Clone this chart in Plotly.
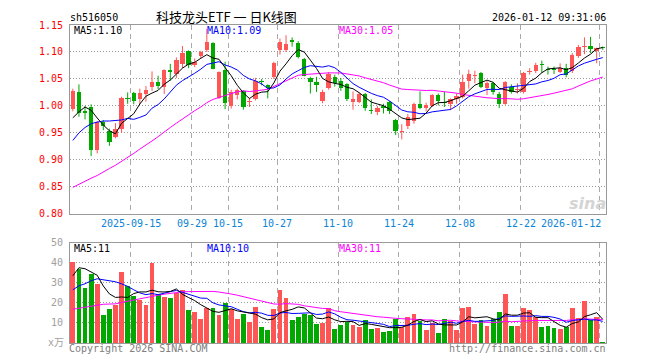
import plotly.graph_objects as go

# ---------------- data ----------------
opens = [0.995, 1.025, 0.991, 0.998, 0.918, 0.970, 0.953, 0.943, 0.958, 1.013,
         1.024, 1.012, 1.022, 1.035, 1.045, 1.035, 1.067, 1.060, 1.078, 1.101,
         1.076, 1.092, 1.104, 1.117, 1.015, 1.067, 1.000, 1.021, 1.027, 1.007,
         1.012, 1.047, 1.038, 1.053, 1.103, 1.104, 1.123, 1.116, 1.087, 1.052,
         1.045, 1.009, 1.033, 1.054, 1.046, 1.040, 1.008, 1.007, 1.022, 0.993,
         0.989, 0.999, 1.007, 0.974, 0.952, 0.962, 0.972, 1.004, 0.996, 1.000,
         1.021, 1.007, 1.004, 1.012, 1.017, 1.046, 1.055, 1.061, 1.034, 1.042,
         1.023, 1.003, 1.036, 1.029, 1.026, 1.063, 1.064, 1.077, 1.068, 1.067,
         1.063, 1.071, 1.064, 1.093, 1.110, 1.112, 1.101, 1.109]
highs = [1.032, 1.040, 1.000, 1.003, 0.972, 0.974, 0.958, 0.968, 1.017, 1.025,
         1.026, 1.032, 1.037, 1.064, 1.056, 1.068, 1.078, 1.090, 1.111, 1.103,
         1.088, 1.102, 1.143, 1.118, 1.064, 1.082, 1.030, 1.032, 1.029, 1.015,
         1.052, 1.050, 1.040, 1.082, 1.125, 1.131, 1.127, 1.120, 1.089, 1.054,
         1.054, 1.030, 1.063, 1.058, 1.052, 1.042, 1.027, 1.025, 1.024, 1.012,
         1.000, 1.004, 1.009, 0.976, 0.966, 0.985, 1.006, 1.027, 1.006, 1.022,
         1.023, 1.026, 1.014, 1.023, 1.058, 1.067, 1.065, 1.063, 1.046, 1.044,
         1.026, 1.046, 1.040, 1.042, 1.063, 1.070, 1.080, 1.084, 1.073, 1.073,
         1.079, 1.078, 1.098, 1.113, 1.127, 1.128, 1.108, 1.110]
lows = [0.990, 0.980, 0.975, 0.907, 0.912, 0.955, 0.926, 0.940, 0.950, 1.004,
        1.003, 1.003, 1.008, 1.028, 1.031, 1.022, 1.047, 1.052, 1.070, 1.070,
        1.072, 1.088, 1.100, 1.068, 1.013, 0.994, 0.995, 1.012, 0.993, 0.998,
        1.010, 1.038, 1.014, 1.050, 1.095, 1.100, 1.110, 1.088, 1.055, 1.023,
        1.026, 1.005, 1.030, 1.036, 1.028, 1.009, 0.993, 1.005, 0.991, 0.985,
        0.983, 0.986, 0.985, 0.946, 0.938, 0.957, 0.967, 0.994, 0.990, 0.998,
        1.001, 0.998, 0.992, 1.004, 1.014, 1.032, 1.042, 1.033, 1.020, 1.021,
        0.996, 1.002, 1.023, 1.023, 1.023, 1.058, 1.061, 1.061, 1.058, 1.059,
        1.061, 1.053, 1.061, 1.089, 1.096, 1.098, 1.079, 1.104]
closes = [1.027, 0.987, 0.986, 0.918, 0.970, 0.962, 0.934, 0.958, 1.015, 1.012,
          1.009, 1.024, 1.030, 1.044, 1.037, 1.066, 1.063, 1.085, 1.099, 1.075,
          1.082, 1.100, 1.119, 1.068, 1.063, 1.005, 1.025, 1.030, 0.998, 1.010,
          1.046, 1.044, 1.034, 1.079, 1.119, 1.114, 1.119, 1.091, 1.056, 1.044,
          1.038, 1.026, 1.059, 1.042, 1.033, 1.013, 1.012, 1.023, 0.996, 0.991,
          0.996, 0.996, 0.990, 0.953, 0.954, 0.980, 1.003, 0.996, 1.001, 1.021,
          1.009, 1.005, 1.012, 1.019, 1.045, 1.059, 1.057, 1.036, 1.042, 1.025,
          1.003, 1.044, 1.025, 1.031, 1.061, 1.065, 1.076, 1.075, 1.066, 1.066,
          1.070, 1.058, 1.095, 1.109, 1.112, 1.106, 1.107, 1.107]
volumes = [40.5, 36.7, 27.5, 34.5, 29.5, 13.8, 17.0, 18.8, 35.5, 28.3,
           23.5, 21.2, 18.7, 40.0, 24.2, 23.0, 22.5, 25.0, 26.5, 16.2,
           15.5, 12.2, 17.5, 17.5, 13.7, 20.0, 16.7, 12.2, 14.5, 10.5,
           18.0, 8.0, 6.7, 16.7, 26.2, 22.5, 11.7, 12.8, 14.2, 13.7,
           9.7, 10.0, 17.2, 7.1, 9.2, 10.5, 9.2, 7.8, 11.7, 7.2,
           7.5, 5.5, 6.2, 12.0, 8.0, 12.8, 14.5, 11.2, 6.7, 10.0,
           5.0, 12.2, 11.0, 6.7, 17.5, 18.0, 9.5, 11.7, 8.7, 12.2,
           15.5, 24.2, 8.7, 8.7, 17.5, 16.2, 12.8, 8.0, 8.7, 7.5,
           7.2, 8.0, 17.2, 12.5, 21.0, 11.7, 13.2, 0.5]

# moving-average values visible before a full window exists
ma5_head = [0.978, 0.989, 0.998, 0.992]
ma10_head = [0.936, 0.950, 0.960, 0.967, 0.970, 0.972, 0.972, 0.973, 0.974]
ma30_head = [0.849, 0.855, 0.861, 0.866, 0.871, 0.878, 0.884, 0.890, 0.897, 0.905,
             0.912, 0.920, 0.927, 0.935, 0.943, 0.952, 0.960, 0.968, 0.976, 0.984,
             0.991, 0.998, 1.006, 1.012, 1.016, 1.019, 1.023, 1.026, 1.028]
vma5_head = [33.5, 37.5, 37.0, 35.5]
vma10_head = [26.5, 28.5, 29.5, 31.0, 32.0, 31.5, 31.0, 30.5, 29.5]
vma30_head = [16.8, 17.3, 17.8, 18.3, 19.0, 19.3, 19.4, 19.5, 20.2, 20.9,
              21.5, 22.0, 22.6, 23.3, 23.8, 24.3, 24.8, 25.3, 25.5, 25.6,
              25.7, 25.8, 25.8, 25.7, 25.4, 25.0, 24.4, 23.8, 23.1]

tick_index = [10, 20, 26, 34, 44, 54, 64, 74, 87]
tick_labels = ["2025-09-15", "09-29", "10-15", "10-27", "11-10", "11-24",
               "12-08", "12-22", "2026-01-12"]
price_ticks = [0.80, 0.85, 0.90, 0.95, 1.00, 1.05, 1.10, 1.15]
vol_ticks = [10, 20, 30, 40, 50]

# ---------------- helpers ----------------
def moving_average(vals, n, head):
    out = list(head)
    for i in range(n - 1, len(vals)):
        out.append(sum(vals[i - n + 1:i + 1]) / n)
    return out

N = len(closes)
xs = list(range(N))
RED = "#ff5555"
GREEN = "#00a800"
MONO = "DejaVu Sans Mono, Liberation Mono, monospace"

up = [c >= o for o, c in zip(opens, closes)]

fig = go.Figure()

# wicks
for flag, col in ((True, RED), (False, GREEN)):
    wx, wy = [], []
    for i in xs:
        if up[i] == flag:
            wx += [i, i, None]
            wy += [lows[i], highs[i], None]
    fig.add_trace(go.Scatter(x=wx, y=wy, mode="lines", line=dict(color=col, width=1),
                             xaxis="x", yaxis="y", hoverinfo="skip", showlegend=False))

# bodies
for flag, col in ((True, RED), (False, GREEN)):
    bx, bb, bh = [], [], []
    for i in xs:
        if up[i] == flag:
            lo = min(opens[i], closes[i])
            bx.append(i)
            bb.append(lo)
            bh.append(max(abs(closes[i] - opens[i]), 0.0019))
    fig.add_trace(go.Bar(x=bx, y=bh, base=bb, width=0.72, marker=dict(color=col, line=dict(width=0)),
                         xaxis="x", yaxis="y", hoverinfo="skip", showlegend=False))

# price moving averages
for vals, col in ((moving_average(closes, 30, ma30_head), "#ff00ff"),
                  (moving_average(closes, 10, ma10_head), "#0000ff"),
                  (moving_average(closes, 5, ma5_head), "#000000")):
    fig.add_trace(go.Scatter(x=xs, y=vals, mode="lines", line=dict(color=col, width=1),
                             xaxis="x", yaxis="y", hoverinfo="skip", showlegend=False))

# volume bars
for flag, col in ((True, RED), (False, GREEN)):
    vx = [i for i in xs if up[i] == flag]
    vy = [volumes[i] for i in vx]
    fig.add_trace(go.Bar(x=vx, y=vy, width=0.8, marker=dict(color=col, line=dict(width=0)),
                         xaxis="x2", yaxis="y2", hoverinfo="skip", showlegend=False))

for vals, col in ((moving_average(volumes, 30, vma30_head), "#ff00ff"),
                  (moving_average(volumes, 10, vma10_head), "#0000ff"),
                  (moving_average(volumes, 5, vma5_head), "#000000")):
    fig.add_trace(go.Scatter(x=xs, y=vals, mode="lines", line=dict(color=col, width=1),
                             xaxis="x2", yaxis="y2", hoverinfo="skip", showlegend=False))

grid_x = [i - 0.467 for i in tick_index]
xrange_ = [-0.467, N - 0.467]

common_x = dict(range=xrange_, tickmode="array", tickvals=grid_x, showticklabels=False,
                showgrid=True, gridcolor="#aaaaaa", griddash="5px,4px", gridwidth=1,
                showline=True, mirror=True, linecolor="#999999", linewidth=1,
                zeroline=False, ticks="", fixedrange=True)

# The page body has an 8px margin, so the figure is drawn 8px smaller and
# the margins are reduced by 8px to keep the plot where the reference has it.
fig.update_layout(
    width=652, height=352,
    margin=dict(l=62, r=54, t=13, b=11),
    paper_bgcolor="white", plot_bgcolor="white",
    barmode="overlay", bargap=0, hovermode=False, showlegend=False,
    xaxis=dict(anchor="y", domain=[0, 1], **common_x),
    xaxis2=dict(anchor="y2", domain=[0, 1], matches="x", **common_x),
    yaxis=dict(domain=[0.40625, 1.0], range=[0.80, 1.15], tickmode="array",
               tickvals=price_ticks, ticktext=["%.2f" % v for v in price_ticks],
               tickfont=dict(family=MONO, size=10, color="#ff0000"),
               showgrid=True, gridcolor="#999999", griddash="1px,2px", gridwidth=1,
               showline=True, mirror=True, linecolor="#999999", linewidth=1,
               zeroline=False, ticks="", ticklabelstandoff=4, fixedrange=True),
    yaxis2=dict(domain=[0.0, 0.3156], range=[0, 50], tickmode="array",
                tickvals=vol_ticks, ticktext=[str(v) for v in vol_ticks],
                tickfont=dict(family=MONO, size=10, color="#a0a0a0"),
                showgrid=True, gridcolor="#999999", griddash="1px,2px", gridwidth=1,
                showline=True, mirror=True, linecolor="#999999", linewidth=1,
                zeroline=False, ticks="", ticklabelstandoff=4, fixedrange=True),
)

# page pixel -> paper fraction (plot area spans x 70..598, y 21..341 on the page)
def py(px):
    return (341 - px) / 320.0

def pxx(px):
    return (px - 70) / 528.0

ann = []
def label(text, x, y, color="#000000", size=10, xanchor="left", family=MONO, **kw):
    ann.append(dict(text=text, x=x, y=y, xref="paper", yref="paper", showarrow=False,
                    xanchor=xanchor, yanchor="middle", borderpad=0,
                    font=dict(family=family, size=size, color=color), **kw))

label("sh516050", pxx(69), py(13))
label("科技龙头ETF\u00a0一\u00a0日K线图", pxx(224.5), py(12), size=13, xanchor="center",
      family="Noto Sans CJK SC, sans-serif")
label("2026-01-12 09:31:06", pxx(598.5), py(13), xanchor="right")
label("MA5:1.10", pxx(73), py(26.5))
label("MA10:1.09", pxx(204), py(26.5), color="#0000ff")
label("MA30:1.05", pxx(334), py(26.5), color="#ff00ff")
label("MA5:11", pxx(73), py(246))
label("MA10:10", pxx(204), py(246), color="#0000ff")
label("MA30:11", pxx(334), py(246), color="#ff00ff")
label("x万", pxx(65), py(340.5), color="#a0a0a0", xanchor="right",
      family="DejaVu Sans Mono, Noto Sans CJK SC")
label("Copyright 2026 SINA.COM", pxx(68), py(346.5), color="#808080")
label("http://finance.sina.com.cn", pxx(598.5), py(346.5), color="#808080", xanchor="right")
label("<b><i>sina</i></b>", pxx(599), py(201), color="#d4d4d4", size=16, xanchor="right",
      family="DejaVu Sans, sans-serif")

for idx, txt in zip(tick_index, tick_labels):
    last = idx == tick_index[-1]
    ann.append(dict(text=txt, x=idx - 0.467, y=py(221), xref="x", yref="paper",
                    showarrow=False, xanchor="right" if last else "center", yanchor="middle",
                    xshift=2 if last else 0, borderpad=0,
                    font=dict(family=MONO, size=10, color="#0a84d6")))

fig.update_layout(annotations=ann)

fig.write_html("out.html", config={"displayModeBar": False, "staticPlot": True})
